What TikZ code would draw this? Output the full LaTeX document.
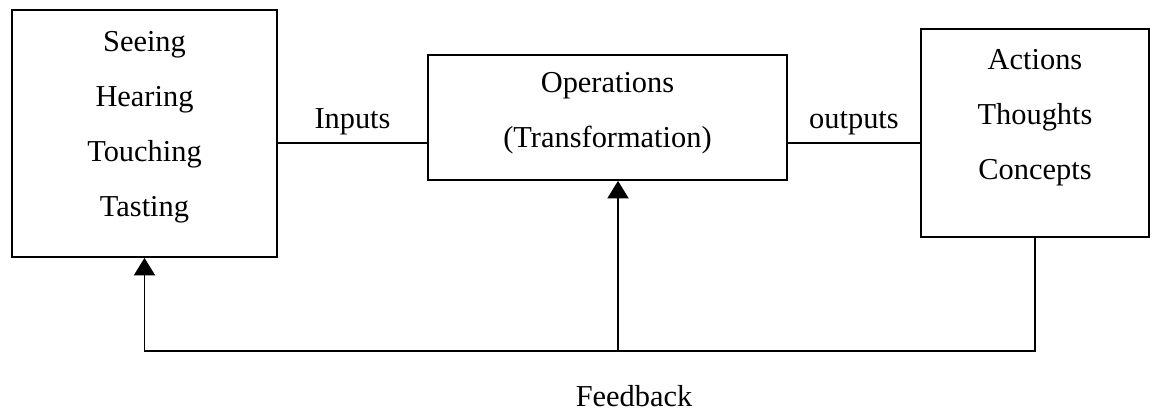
\documentclass[tikz,border=0pt]{standalone}
\usepackage{fontspec}
\setmainfont{Liberation Serif}
\usetikzlibrary{arrows.meta,positioning}
\tikzset{
  box/.style={draw,line width=1pt,inner sep=0pt},
  lines/.style={align=center,inner sep=0pt,font=\fontsize{17.3}{31.3}\selectfont},
  fbarrow/.style={line width=1pt,-{Triangle[width=12pt,length=10pt]}}
}
\begin{document}
\begin{tikzpicture}
\useasboundingbox (0,0) rectangle (23.06,8.24);
\node[box,minimum width=5.3cm,minimum height=4.94cm] (senses) at (2.89,5.57) {};
\node[box,minimum width=7.18cm,minimum height=2.5cm] (ops) at (12.15,5.89) {};
\node[box,minimum width=4.56cm,minimum height=4.16cm] (acts) at (20.70,5.58) {};
\node[lines,below=0.44cm of senses.north] (sensetext) {Seeing\\Hearing\\Touching\\Tasting};
\node[lines,below=0.36cm of ops.north] (opstext) {Operations\\(Transformation)};
\node[lines,below=0.42cm of acts.north] (actstext) {Actions\\Thoughts\\Concepts};
\coordinate (flow) at (0,5.38);
\coordinate (fbjoin) at (12.36,1.22);
\draw[line width=1pt] (senses.east |- flow) -- node[lines,above=4pt] (inlabel) {Inputs} (ops.west |- flow);
\draw[line width=1pt] (ops.east |- flow) -- node[lines,above=4pt] (outlabel) {outputs} (acts.west |- flow);
% feedback loop
\draw[fbarrow] (acts.south) |- (fbjoin) -| (senses.south);
\draw[fbarrow] (fbjoin) -- (fbjoin |- ops.south);
\node[lines,anchor=base] (fblabel) at (12.68,0.10) {Feedback};
\end{tikzpicture}
\end{document}
